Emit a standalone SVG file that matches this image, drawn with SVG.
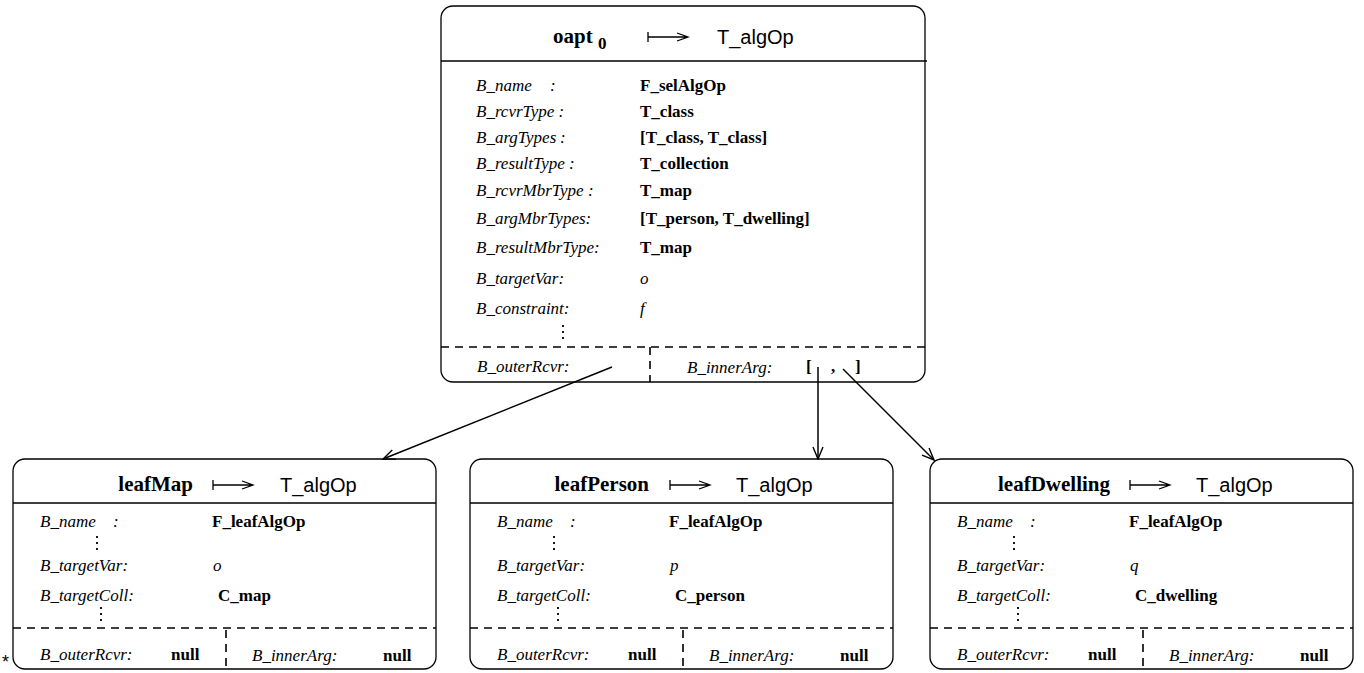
<svg xmlns="http://www.w3.org/2000/svg" width="1364" height="673" viewBox="0 0 1364 673">
<defs>
<style>
.box{fill:#fff;stroke:#000;stroke-width:1.3}
.ln{stroke:#000;stroke-width:1.3;fill:none}
.dash{stroke:#000;stroke-width:1.6;fill:none;stroke-dasharray:8 6}
.dots{stroke:#000;stroke-width:1.8;fill:none;stroke-dasharray:2 4}
.lab{font-family:"Liberation Serif",serif;font-style:italic;font-size:17px;fill:#000}
.val{font-family:"Liberation Serif",serif;font-weight:bold;font-size:17px;fill:#000}
.var{font-family:"Liberation Serif",serif;font-style:italic;font-size:17px;fill:#000}
.ttl{font-family:"Liberation Serif",serif;font-weight:bold;font-size:21px;fill:#000}
.typ{font-family:"Liberation Sans",Arial,sans-serif;font-size:20px;fill:#000}
.con{stroke:#000;stroke-width:1.5;fill:none}
</style>
<marker id="ah" markerWidth="14" markerHeight="12" refX="13" refY="6" orient="auto" markerUnits="userSpaceOnUse">
<path d="M1,1 L13,6 L1,11" fill="none" stroke="#000" stroke-width="1.4"/>
</marker>
<g id="maps">
<path d="M0,-5 V5 M0,0 H40 M29,-4 L40,0 L29,4" class="ln"/>
</g>
</defs>

<g id="oapt0">
<rect class="box" x="441" y="6" width="484" height="376" rx="12"/>
<line class="ln" x1="441" y1="61" x2="927" y2="61"/>
<text class="ttl" x="553" y="43">oapt</text>
<text class="val" x="598" y="49" font-size="16">0</text>
<use href="#maps" x="648" y="37"/>
<text class="typ" x="717" y="44">T_algOp</text>
<text class="lab" x="476" y="91">B_name<tspan x="550">:</tspan></text>
<text class="val" x="640" y="91">F_selAlgOp</text>
<text class="lab" x="476" y="117">B_rcvrType :</text>
<text class="val" x="640" y="117">T_class</text>
<text class="lab" x="476" y="143">B_argTypes<tspan x="560">:</tspan></text>
<text class="val" x="640" y="143">[T_class, T_class]</text>
<text class="lab" x="476" y="169">B_resultType :</text>
<text class="val" x="640" y="169">T_collection</text>
<text class="lab" x="476" y="196">B_rcvrMbrType :</text>
<text class="val" x="640" y="196">T_map</text>
<text class="lab" x="476" y="224">B_argMbrTypes:</text>
<text class="val" x="640" y="224">[T_person, T_dwelling]</text>
<text class="lab" x="476" y="253">B_resultMbrType:</text>
<text class="val" x="640" y="253">T_map</text>
<text class="lab" x="476" y="284">B_targetVar:</text>
<text class="var" x="640" y="284">o</text>
<text class="lab" x="476" y="314">B_constraint:</text>
<text class="var" x="640" y="314">f</text>
<line class="dots" x1="563" y1="325" x2="563" y2="341"/>
<line class="dash" x1="441" y1="347" x2="925" y2="347"/>
<line class="dash" x1="650" y1="347" x2="650" y2="382"/>
<text class="lab" x="477" y="372">B_outerRcvr:</text>
<text class="lab" x="687" y="373">B_innerArg:</text>
<text class="val" x="806" y="372">[</text>
<text class="val" x="831" y="372">,</text>
<text class="val" x="855" y="372">]</text>
</g>

<g id="leafMap">
<rect class="box" x="13" y="459" width="423" height="210" rx="12"/>
<line class="ln" x1="13" y1="503" x2="436" y2="503"/>
<text class="ttl" x="193" y="491" text-anchor="end">leafMap</text>
<use href="#maps" x="213" y="485"/>
<text class="typ" x="280" y="492">T_algOp</text>
<text class="lab" x="40" y="527">B_name<tspan x="113">:</tspan></text>
<text class="val" x="212" y="527">F_leafAlgOp</text>
<line class="dots" x1="97" y1="536" x2="97" y2="552"/>
<text class="lab" x="40" y="571">B_targetVar:</text>
<text class="var" x="213" y="571">o</text>
<text class="lab" x="40" y="601">B_targetColl:</text>
<text class="val" x="218" y="601">C_map</text>
<line class="dots" x1="101" y1="607" x2="101" y2="623"/>
<line class="dash" x1="13" y1="628" x2="436" y2="628"/>
<line class="dash" x1="226" y1="630" x2="226" y2="669"/>
<text class="lab" x="40" y="660">B_outerRcvr:</text>
<text class="val" x="171" y="660">null</text>
<text class="lab" x="252" y="661">B_innerArg:</text>
<text class="val" x="383" y="661">null</text>
</g>

<g id="leafPerson">
<rect class="box" x="470" y="459" width="423" height="210" rx="12"/>
<line class="ln" x1="470" y1="503" x2="893" y2="503"/>
<text class="ttl" x="649" y="491" text-anchor="end">leafPerson</text>
<use href="#maps" x="670" y="485"/>
<text class="typ" x="736" y="492">T_algOp</text>
<text class="lab" x="497" y="527">B_name<tspan x="570">:</tspan></text>
<text class="val" x="669" y="527">F_leafAlgOp</text>
<line class="dots" x1="554" y1="536" x2="554" y2="552"/>
<text class="lab" x="497" y="571">B_targetVar:</text>
<text class="var" x="670" y="571">p</text>
<text class="lab" x="497" y="601">B_targetColl:</text>
<text class="val" x="675" y="601">C_person</text>
<line class="dots" x1="558" y1="607" x2="558" y2="623"/>
<line class="dash" x1="470" y1="628" x2="893" y2="628"/>
<line class="dash" x1="683" y1="630" x2="683" y2="669"/>
<text class="lab" x="497" y="660">B_outerRcvr:</text>
<text class="val" x="628" y="660">null</text>
<text class="lab" x="709" y="661">B_innerArg:</text>
<text class="val" x="840" y="661">null</text>
</g>

<g id="leafDwelling">
<rect class="box" x="930" y="459" width="423" height="210" rx="12"/>
<line class="ln" x1="930" y1="503" x2="1353" y2="503"/>
<text class="ttl" x="1110" y="491" text-anchor="end">leafDwelling</text>
<use href="#maps" x="1130" y="485"/>
<text class="typ" x="1196" y="492">T_algOp</text>
<text class="lab" x="957" y="527">B_name<tspan x="1030">:</tspan></text>
<text class="val" x="1129" y="527">F_leafAlgOp</text>
<line class="dots" x1="1014" y1="536" x2="1014" y2="552"/>
<text class="lab" x="957" y="571">B_targetVar:</text>
<text class="var" x="1130" y="571">q</text>
<text class="lab" x="957" y="601">B_targetColl:</text>
<text class="val" x="1135" y="601">C_dwelling</text>
<line class="dots" x1="1018" y1="607" x2="1018" y2="623"/>
<line class="dash" x1="930" y1="628" x2="1353" y2="628"/>
<line class="dash" x1="1143" y1="630" x2="1143" y2="669"/>
<text class="lab" x="957" y="660">B_outerRcvr:</text>
<text class="val" x="1088" y="660">null</text>
<text class="lab" x="1169" y="661">B_innerArg:</text>
<text class="val" x="1300" y="661">null</text>
</g>

<text id="star" x="2" y="668" font-family="Liberation Sans, sans-serif" font-size="18" fill="#000">*</text>

<g id="connectors">
<line class="con" x1="612" y1="367" x2="383" y2="459" marker-end="url(#ah)"/>
<line class="con" x1="818" y1="367" x2="818" y2="459" marker-end="url(#ah)"/>
<line class="con" x1="843" y1="369" x2="934" y2="460" marker-end="url(#ah)"/>
</g>
</svg>
